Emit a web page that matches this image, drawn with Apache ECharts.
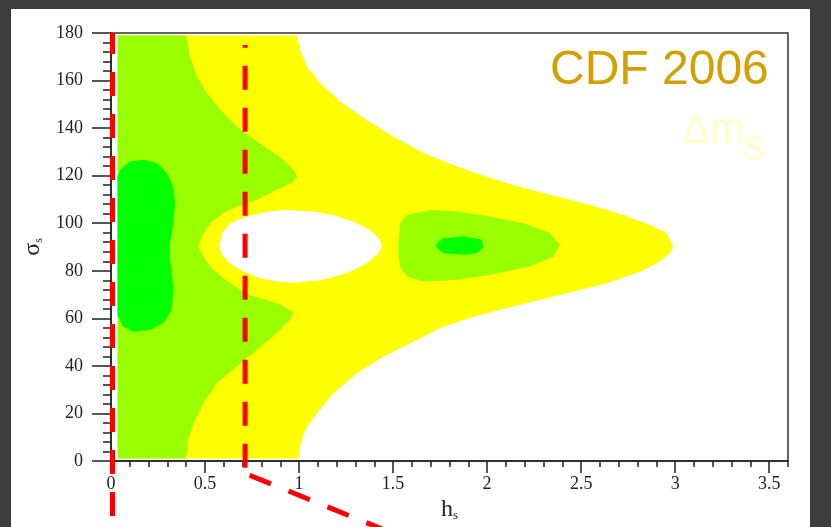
<!DOCTYPE html>
<html><head><meta charset="utf-8">
<script src="https://cdn.jsdelivr.net/npm/echarts@6/dist/echarts.min.js"></script>
<style>html,body{margin:0;padding:0;background:#3c3c3c;}#c{width:831px;height:527px;}</style>
</head><body><div id="c"></div>
<script>
// ---- tick labels ----
const xMajorTicks = [0, 0.5, 1, 1.5, 2, 2.5, 3, 3.5];
const yRange = [0, 180];
const xRange = [0, 3.6];

// ---- contour regions, [h_s, sigma_s] boundary points ----
const yellowRegion = [
 [0.035,179],[0.988,179],[1.005,173.0],[1.041,165.9],[1.112,159.0],[1.218,151.2],[1.342,144.2],[1.484,137.2],
 [1.661,129.5],[1.839,123.9],[2.016,119.0],[2.193,114.8],[2.371,111.2],[2.548,107.7],[2.725,103.5],[2.867,99.3],
 [2.956,95.8],[2.982,91.6],[2.988,90.5],[2.973,87.4],[2.903,83.2],[2.814,79.7],[2.637,74.8],[2.459,71.3],
 [2.282,67.8],[2.105,64.3],[1.927,60.7],[1.750,55.9],[1.590,49.5],[1.448,43.9],[1.307,36.9],[1.182,28.5],
 [1.094,20.1],[1.032,13.0],[1.005,6.0],[0.996,1],[0.035,1]
];
const lightGreenLeft = [
 [0.035,179],[0.399,179],[0.420,170.2],[0.456,161.7],[0.509,154.8],[0.580,147.7],[0.669,140.7],[0.739,136.5],
 [0.828,131.6],[0.916,126.7],[0.979,121.8],[0.988,119.7],[0.961,116.9],[0.881,114.1],[0.775,109.8],[0.669,107.0],
 [0.597,104.3],[0.527,100.0],[0.482,94.4],[0.464,90.1],[0.482,87.4],[0.527,81.8],[0.597,76.9],[0.686,72.0],
 [0.757,69.2],[0.881,66.4],[0.970,62.8],[0.952,59.3],[0.881,53.7],[0.775,46.7],[0.669,39.7],[0.562,32.7],
 [0.491,24.3],[0.438,15.9],[0.411,8.8],[0.399,1],[0.035,1]
];
const lightGreenIsland = [
 [1.528,91.6],[1.537,100.0],[1.573,103.5],[1.697,105.6],[1.839,104.9],[2.016,102.8],[2.193,100.0],[2.335,95.8],
 [2.388,90.9],[2.353,86.0],[2.229,81.8],[2.016,78.3],[1.839,76.2],[1.661,75.5],[1.573,77.6],[1.537,81.8],[1.528,87.4]
];
const darkGreenLeft = [
 [0.035,119.7],[0.048,122.5],[0.101,126.0],[0.172,126.7],[0.243,125.3],[0.296,121.1],[0.331,115.4],[0.340,108.5],
 [0.331,100.0],[0.314,91.6],[0.314,84.6],[0.331,73.4],[0.323,63.6],[0.278,58.0],[0.207,55.1],[0.119,54.4],
 [0.065,56.5],[0.039,60.7],[0.035,61.5]
];
const darkGreenIsland = [
 [1.732,91.6],[1.768,93.7],[1.874,94.4],[1.972,93.0],[1.980,90.1],[1.945,87.4],[1.874,86.7],[1.768,87.4],[1.729,90.1]
];
const whiteHole = [
 [0.576,90.2],[0.589,95.8],[0.633,100.0],[0.722,102.8],[0.828,104.7],[0.916,105.6],[1.076,104.9],[1.182,103.5],
 [1.289,100.7],[1.378,97.2],[1.431,93.0],[1.440,90.2],[1.422,87.4],[1.360,83.2],[1.254,79.0],[1.129,76.2],
 [0.970,75.0],[0.881,75.5],[0.793,76.9],[0.704,79.7],[0.633,83.2],[0.589,86.7]
];

// ---- red dashed annotation lines: [h, sigma] end points ----
const cutLine1 = [[0.008, 180], [0.008, -35]];
const cutLine2 = [[0.713, -2.8], [0.713, 175]];
const cutDiag  = [[0.737, -6.0], [1.80, -40.1]];

const dom = document.getElementById('c');
const chart = echarts.init(dom, null, {renderer: 'canvas'});

function region(name, pts, color, z) {
  return {
    type: 'custom', name, coordinateSystem: 'cartesian2d', xAxisIndex: 0, yAxisIndex: 0,
    silent: true, z: z, clip: true, animation: false,
    data: pts,
    renderItem: function (params, api) {
      if (params.dataIndex !== 0) return null;
      return {type: 'polygon', shape: {points: pts.map(p => api.coord(p))}, style: {fill: color, stroke: null}};
    }
  };
}

const serif = 'Liberation Serif';
const axisColor = '#222';

chart.setOption({
  animation: false,
  backgroundColor: '#3c3c3c',
  grid: {left: 111, right: 43, top: 33, bottom: 66, show: true, borderColor: '#333', borderWidth: 1.5,
         containLabel: false, outerBoundsMode: 'none'},
  xAxis: [
    {type: 'value', min: xRange[0], max: xRange[1], position: 'bottom',
     axisLine: {show: true, onZero: false, lineStyle: {color: axisColor, width: 1.5}},
     axisTick: {show: true, length: 12, customValues: xMajorTicks, lineStyle: {color: axisColor, width: 1.5}},
     axisLabel: {customValues: xMajorTicks, margin: 14, fontFamily: serif, fontSize: 18, color: axisColor,
                 formatter: v => (Math.abs(v - 3.6) < 1e-6 ? '' : String(v))},
     splitLine: {show: false},
     name: '{m|h}{s|s}', nameLocation: 'middle', nameGap: 34,
     nameTextStyle: {rich: {m: {fontFamily: serif, fontSize: 24, color: axisColor},
                            s: {fontFamily: serif, fontSize: 13, color: axisColor, verticalAlign: 'bottom'}}}},
    {type: 'value', min: xRange[0], max: xRange[1], interval: 0.1, position: 'bottom',
     axisLine: {show: false}, axisLabel: {show: false}, splitLine: {show: false},
     axisTick: {show: true, length: 6, lineStyle: {color: axisColor, width: 1.5}}}
  ],
  yAxis: {type: 'value', min: yRange[0], max: yRange[1], interval: 20,
    axisLine: {show: true, onZero: false, lineStyle: {color: axisColor, width: 1.5}},
    axisTick: {show: true, length: 19, lineStyle: {color: axisColor, width: 1.5}},
    minorTick: {show: true, splitNumber: 5, length: 8, lineStyle: {color: axisColor, width: 1.5}},
    axisLabel: {margin: 28, fontFamily: serif, fontSize: 18, color: axisColor},
    splitLine: {show: false},
    name: '{m|σ}{s|s}', nameLocation: 'middle', nameRotate: 90, nameGap: 66,
    nameTextStyle: {rich: {m: {fontFamily: serif, fontSize: 24, color: axisColor},
                           s: {fontFamily: serif, fontSize: 12, color: axisColor, verticalAlign: 'bottom'}}}},
  series: [
    region('yellow', yellowRegion, '#ffff00', 2),
    region('lightGreenLeft', lightGreenLeft, '#99ff00', 3),
    region('lightGreenIsland', lightGreenIsland, '#99ff00', 3),
    region('darkGreenLeft', darkGreenLeft, '#00ff00', 4),
    region('darkGreenIsland', darkGreenIsland, '#00ff00', 4),
    region('hole', whiteHole, '#ffffff', 5)
  ]
});

function px(p) { return chart.convertToPixel({gridIndex: 0}, p); }
const a1 = px(cutLine1[0]), b1 = px(cutLine1[1]);
const a2 = px(cutLine2[0]), b2 = px(cutLine2[1]);
const a3 = px(cutDiag[0]), b3 = px(cutDiag[1]);
const red = {stroke: '#ff0000', lineWidth: 5, lineDash: [24, 18]};

chart.setOption({
  graphic: [
    {type: 'rect', silent: true, z: -10, shape: {x: 11, y: 9, width: 799, height: 530}, style: {fill: '#ffffff'}},
    {type: 'text', silent: true, z: 50, x: 550, y: 70.5,
     style: {text: 'CDF 2006', fontFamily: 'Liberation Sans', fontSize: 48, fill: '#d2a000', align: 'left', verticalAlign: 'middle'}},
    {type: 'text', silent: true, z: 50, x: 682, y: 131,
     style: {text: 'Δm', fontFamily: 'Liberation Sans', fontSize: 42, fill: '#ffffcc', align: 'left', verticalAlign: 'middle'}},
    {type: 'text', silent: true, z: 50, x: 743, y: 147.5,
     style: {text: 's', fontFamily: 'Liberation Sans', fontSize: 44, fill: '#ffffcc', align: 'left', verticalAlign: 'middle'}},
    {type: 'line', silent: true, z: 100, shape: {x1: a1[0], y1: a1[1], x2: b1[0], y2: b1[1]},
     style: Object.assign({}, red, {lineDashOffset: 3})},
    {type: 'line', silent: true, z: 100, shape: {x1: a2[0], y1: a2[1], x2: b2[0], y2: b2[1]}, style: red},
    {type: 'line', silent: true, z: 100, shape: {x1: a3[0], y1: a3[1], x2: b3[0], y2: b3[1]},
     style: {stroke: '#ff0000', lineWidth: 5, lineDash: [23, 19]}}
  ]
});
</script></body></html>
